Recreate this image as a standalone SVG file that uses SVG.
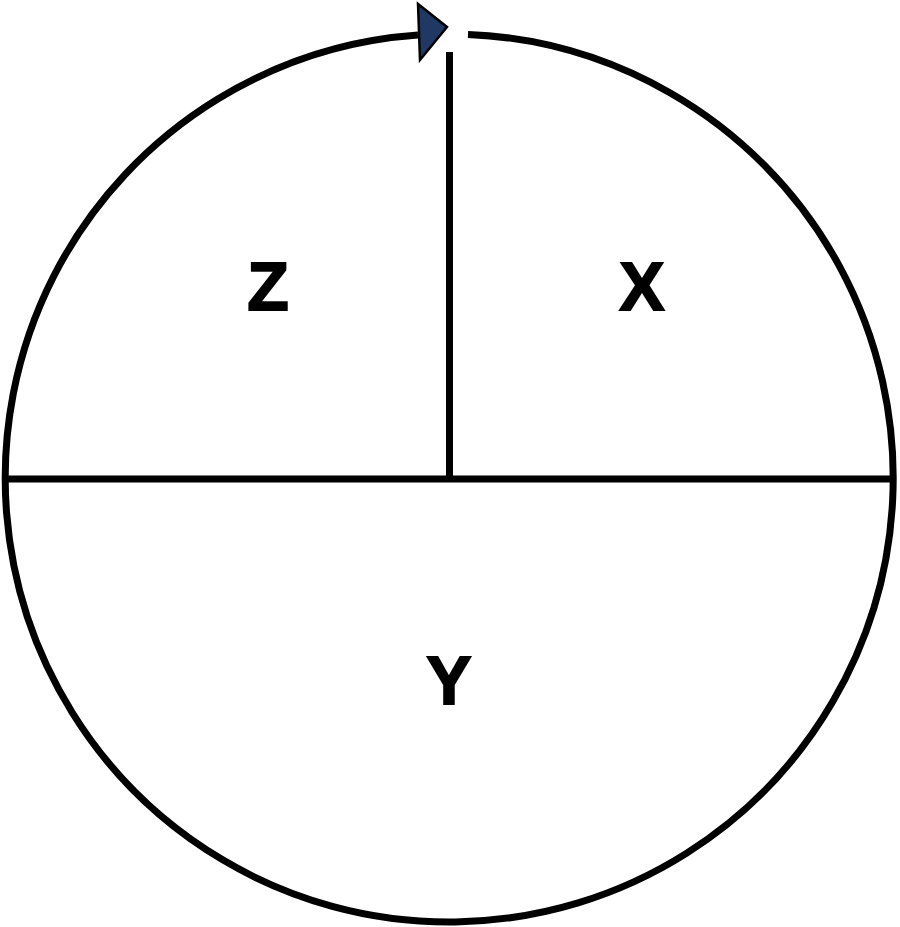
<svg xmlns="http://www.w3.org/2000/svg" width="900" height="927" viewBox="0 0 900 927">
<style>
.ln{fill:none;stroke:#000;stroke-width:7}
.lbl{font-family:"Liberation Sans",Arial,sans-serif;font-weight:bold;font-size:68px;fill:#000;stroke:#000;stroke-width:1.8;stroke-linejoin:miter;text-anchor:middle}
</style>
<rect width="900" height="927" fill="#fff"/>
<g id="connectors">
<path class="ln" d="M 468 34.4 A 444 444 0 1 1 418 35.1"/>
<line class="ln" x1="5.5" y1="479" x2="893.5" y2="479"/>
<line class="ln" x1="449.5" y1="52" x2="449.5" y2="479"/>
<polygon points="418,4 420,60 447,27" fill="#1f3864" stroke="#000" stroke-width="2.5" stroke-linejoin="miter"/>
</g>
<g id="node-z"><text class="lbl" x="268" y="310">Z</text></g>
<g id="node-x"><text class="lbl" x="642" y="310">X</text></g>
<g id="node-y"><text class="lbl" x="449" y="704">Y</text></g>
</svg>
